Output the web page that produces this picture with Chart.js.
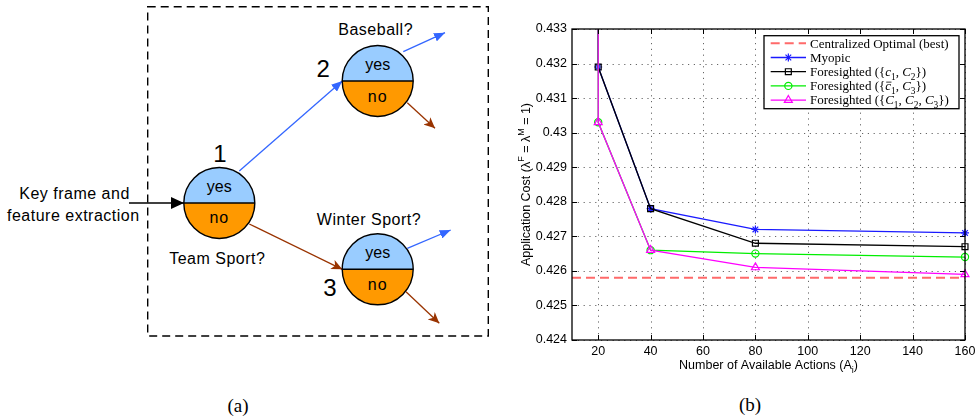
<!DOCTYPE html>
<html><head><meta charset="utf-8">
<script src="https://cdn.jsdelivr.net/npm/chart.js@4"></script>
<style>
html,body{margin:0;padding:0;background:#fff;width:975px;height:420px;overflow:hidden;}
#diagram{position:absolute;left:0;top:0;}
#plot{position:absolute;left:490px;top:0;}
</style></head><body>
<svg id="diagram" width="975" height="420" xmlns="http://www.w3.org/2000/svg" font-family="Liberation Sans, Arial, sans-serif">
<defs>
 <marker id="hBlack" markerUnits="userSpaceOnUse" markerWidth="13" markerHeight="12" refX="13" refY="6" orient="auto"><path d="M0,0 L13,6 L0,12 Z" fill="#000"/></marker>
 <marker id="hBlue" markerUnits="userSpaceOnUse" markerWidth="11" markerHeight="9" refX="11" refY="4.5" orient="auto"><path d="M0,0 L11,4.5 L0,9 Z" fill="#3366ff"/></marker>
 <marker id="hBrown" markerUnits="userSpaceOnUse" markerWidth="11" markerHeight="10" refX="11" refY="5" orient="auto"><path d="M0,0 L11,5 L0,10 L3,5 Z" fill="#993300"/></marker>
</defs>
<rect x="147.7" y="6.7" width="340.6" height="329.3" fill="none" stroke="#000" stroke-width="1.4" stroke-dasharray="8,5"/>
<!-- arrows -->
<line x1="129" y1="203" x2="184" y2="203" stroke="#000" stroke-width="1.4" marker-end="url(#hBlack)"/>
<line x1="239.3" y1="171" x2="342.3" y2="81" stroke="#3366ff" stroke-width="1.3" marker-end="url(#hBlue)"/>
<line x1="249.3" y1="224" x2="342.3" y2="269.3" stroke="#993300" stroke-width="1.3" marker-end="url(#hBrown)"/>
<line x1="403.3" y1="51.7" x2="445" y2="32.7" stroke="#3366ff" stroke-width="1.3" marker-end="url(#hBlue)"/>
<line x1="407.3" y1="102.7" x2="435" y2="128.3" stroke="#993300" stroke-width="1.3" marker-end="url(#hBrown)"/>
<line x1="407.3" y1="248.3" x2="450.7" y2="230" stroke="#3366ff" stroke-width="1.3" marker-end="url(#hBlue)"/>
<line x1="406" y1="291.7" x2="439.3" y2="323.3" stroke="#993300" stroke-width="1.3" marker-end="url(#hBrown)"/>
<!-- node 1 -->
<g>
 <path d="M183.8,203 A35.5,35.5 0 0 1 254.8,203 Z" fill="#99ccff"/>
 <path d="M183.8,203 A35.5,35.5 0 0 0 254.8,203 Z" fill="#ff9900"/>
 <circle cx="219.3" cy="203" r="35.5" fill="none" stroke="#000" stroke-width="1.4"/>
 <line x1="183.8" y1="203" x2="254.8" y2="203" stroke="#000" stroke-width="1.4"/>
 <text x="219.3" y="192" font-size="16" text-anchor="middle">yes</text>
 <text x="219.3" y="223" font-size="16" text-anchor="middle" letter-spacing="1">no</text>
</g>
<g>
 <path d="M342.2,81 A35.5,35.5 0 0 1 413.2,81 Z" fill="#99ccff"/>
 <path d="M342.2,81 A35.5,35.5 0 0 0 413.2,81 Z" fill="#ff9900"/>
 <circle cx="377.7" cy="81" r="35.5" fill="none" stroke="#000" stroke-width="1.4"/>
 <line x1="342.2" y1="81" x2="413.2" y2="81" stroke="#000" stroke-width="1.4"/>
 <text x="377.7" y="70" font-size="16" text-anchor="middle">yes</text>
 <text x="377.7" y="101.5" font-size="16" text-anchor="middle" letter-spacing="1">no</text>
</g>
<g>
 <path d="M342.2,269.3 A35.5,35.5 0 0 1 413.2,269.3 Z" fill="#99ccff"/>
 <path d="M342.2,269.3 A35.5,35.5 0 0 0 413.2,269.3 Z" fill="#ff9900"/>
 <circle cx="377.7" cy="269.3" r="35.5" fill="none" stroke="#000" stroke-width="1.4"/>
 <line x1="342.2" y1="269.3" x2="413.2" y2="269.3" stroke="#000" stroke-width="1.4"/>
 <text x="377.7" y="258.3" font-size="16" text-anchor="middle">yes</text>
 <text x="377.7" y="289.8" font-size="16" text-anchor="middle" letter-spacing="1">no</text>
</g>
<text x="220" y="161.7" font-size="24" text-anchor="middle">1</text>
<text x="323.3" y="76.7" font-size="24" text-anchor="middle">2</text>
<text x="330" y="296" font-size="24" text-anchor="middle">3</text>
<text x="375.7" y="35" font-size="16" text-anchor="middle" letter-spacing="0.5">Baseball?</text>
<text x="369" y="225" font-size="16" text-anchor="middle" letter-spacing="0.5">Winter Sport?</text>
<text x="217.3" y="264" font-size="16" text-anchor="middle" letter-spacing="0.5">Team Sport?</text>
<text x="74.5" y="198.5" font-size="16" text-anchor="middle" letter-spacing="0.5">Key frame and</text>
<text x="73.3" y="221" font-size="16" text-anchor="middle" letter-spacing="0.5">feature extraction</text>
<text x="238" y="412" font-size="19" text-anchor="middle" font-family="Liberation Serif, Times New Roman, serif">(a)</text>
<text x="750" y="411" font-size="19" text-anchor="middle" font-family="Liberation Serif, Times New Roman, serif">(b)</text>
</svg>
<canvas id="plot" width="485" height="420"></canvas>
<script>
// ---- data ----
const actions = [20, 40, 80, 160];
const myopic = [0.4319, 0.4278, 0.4272, 0.4271];
const foresightedC1C2 = [0.4319, 0.4278, 0.4268, 0.4267];
const foresightedC1barC3 = [0.4303, 0.4266, 0.4265, 0.4264];
const foresightedAll = [0.4303, 0.4266, 0.4261, 0.4259];
const offScaleStart = 0.4345;          // every curve enters from above the axis at A = 20
const centralizedOptimal = 0.4258;
const xRange = [10, 160];
const yRange = [0.424, 0.433];
const xTicks = [20, 40, 60, 80, 100, 120, 140, 160];
const yTicks = [0.424, 0.425, 0.426, 0.427, 0.428, 0.429, 0.430, 0.431, 0.432, 0.433];
const seriesNames = ['Centralized Optimal (best)', 'Myopic', 'Foresighted ({c1, C2})', 'Foresighted ({c\u03041, C3})', 'Foresighted ({C1, C2, C3})'];

// rich-text legend labels
const legendRich = [
  [['Centralized Optimal (best)','n']],
  [['Myopic','n']],
  [['Foresighted ({','n'],['c','i'],['1','sub'],[', ','n'],['C','i'],['2','sub'],['})','n']],
  [['Foresighted ({','n'],['c','ibar'],['1','sub'],[', ','n'],['C','i'],['3','sub'],['})','n']],
  [['Foresighted ({','n'],['C','i'],['1','sub'],[', ','n'],['C','i'],['2','sub'],[', ','n'],['C','i'],['3','sub'],['})','n']]
];

function series(vals){
  return [{x: actions[0], y: offScaleStart}].concat(actions.map((a, i) => ({x: a, y: vals[i]})));
}
const radiusFn = r => (c => c.dataIndex === 0 ? 0 : r);
const clipBox = {left: 6, right: 8, top: 0, bottom: 6};

const datasets = [
  {label: seriesNames[0], data: [{x: xRange[0], y: centralizedOptimal}, {x: xRange[1], y: centralizedOptimal}],
   borderColor: '#ff6a6a', borderWidth: 2, borderDash: [9, 5], pointRadius: 0, order: 5, clip: clipBox},
  {label: seriesNames[1], data: series(myopic), borderColor: '#1a1aff', borderWidth: 1.3,
   pointStyle: 'star', pointRadius: radiusFn(4), pointBorderColor: '#1a1aff', pointBackgroundColor: 'rgba(0,0,0,0)', pointBorderWidth: 1.2, order: 4, clip: clipBox},
  {label: seriesNames[2], data: series(foresightedC1C2), borderColor: '#000000', borderWidth: 1.3,
   pointStyle: 'rect', pointRadius: radiusFn(4.2), pointBorderColor: '#000', pointBackgroundColor: 'rgba(0,0,0,0)', pointBorderWidth: 1.2, order: 3, clip: clipBox},
  {label: seriesNames[3], data: series(foresightedC1barC3), borderColor: '#00ee00', borderWidth: 1.3,
   pointStyle: 'circle', pointRadius: radiusFn(3.6), pointBorderColor: '#00ee00', pointBackgroundColor: 'rgba(0,0,0,0)', pointBorderWidth: 1.2, order: 2, clip: clipBox},
  {label: seriesNames[4], data: series(foresightedAll), borderColor: '#ff00ff', borderWidth: 1.3,
   pointStyle: 'triangle', pointRadius: radiusFn(4.6), pointBorderColor: '#ff00ff', pointBackgroundColor: 'rgba(0,0,0,0)', pointBorderWidth: 1.2, order: 1, clip: clipBox}
];

const SANS = '"Liberation Sans", Arial, sans-serif';
const SERIF = '"Liberation Serif", "Times New Roman", serif';

function segFont(type, size, family){
  const small = type === 'sub' || type === 'sup';
  const fs = small ? size * 0.72 : size;
  const italic = (type === 'i' || type === 'ibar');
  return {font: (italic ? 'italic ' : '') + fs + 'px ' + family, dy: type === 'sub' ? size * 0.3 : (type === 'sup' ? -size * 0.42 : 0)};
}
function richWidth(ctx, segs, size, family){
  let w = 0;
  for (const [t, type] of segs){ ctx.font = segFont(type, size, family).font; w += ctx.measureText(t).width; }
  return w;
}
function drawRich(ctx, segs, x, y, size, family, color){
  ctx.fillStyle = color || '#000';
  ctx.textBaseline = 'alphabetic';
  ctx.textAlign = 'left';
  for (const [t, type] of segs){
    const f = segFont(type, size, family);
    ctx.font = f.font;
    ctx.fillText(t, x, y + f.dy);
    const w = ctx.measureText(t).width;
    if (type === 'ibar'){
      ctx.save(); ctx.strokeStyle = color || '#000'; ctx.lineWidth = 0.8;
      ctx.beginPath(); ctx.moveTo(x + 1, y - size * 0.62); ctx.lineTo(x + w + 0.5, y - size * 0.62); ctx.stroke(); ctx.restore();
    }
    x += w;
  }
}

// dotted MATLAB-style grid drawn at the scales' tick positions
const gridPlugin = {
  id: 'dottedGrid',
  beforeDatasetsDraw(chart){
    const ctx = chart.ctx, a = chart.chartArea;
    const xs = chart.scales.x, ys = chart.scales.y;
    ctx.save();
    ctx.strokeStyle = 'rgba(0,0,0,0.6)';
    ctx.lineWidth = 1;
    ctx.setLineDash([1.2, 4.6]);
    ctx.beginPath();
    for (const t of xs.ticks){
      const px = Math.round(xs.getPixelForValue(t.value)) + 0.5;
      ctx.moveTo(px, a.bottom); ctx.lineTo(px, a.top);
    }
    for (const t of ys.ticks){
      const py = Math.round(ys.getPixelForValue(t.value)) + 0.5;
      ctx.moveTo(a.left, py); ctx.lineTo(a.right, py);
    }
    ctx.stroke();
    ctx.restore();
  }
};

const framePlugin = {
  id: 'matlabFrame',
  afterDraw(chart){
    const ctx = chart.ctx, a = chart.chartArea;
    const xs = chart.scales.x, ys = chart.scales.y;
    ctx.save();
    // box
    ctx.strokeStyle = '#000'; ctx.lineWidth = 1.3; ctx.setLineDash([]);
    ctx.strokeRect(a.left, a.top, a.right - a.left, a.bottom - a.top);
    // inward ticks on all sides
    ctx.lineWidth = 1;
    const tl = 5;
    ctx.beginPath();
    for (const t of xs.ticks){
      const px = Math.round(xs.getPixelForValue(t.value)) + 0.5;
      ctx.moveTo(px, a.bottom); ctx.lineTo(px, a.bottom - tl);
      ctx.moveTo(px, a.top); ctx.lineTo(px, a.top + tl);
    }
    for (const t of ys.ticks){
      const py = Math.round(ys.getPixelForValue(t.value)) + 0.5;
      ctx.moveTo(a.left, py); ctx.lineTo(a.left + tl, py);
      ctx.moveTo(a.right, py); ctx.lineTo(a.right - tl, py);
    }
    ctx.stroke();

    // axis titles
    const xt = [['Number of Available Actions (A','n'],['i','sub'],[')','n']];
    const xw = richWidth(ctx, xt, 12.5, SANS);
    drawRich(ctx, xt, (a.left + a.right) / 2 - xw / 2, a.bottom + 29, 12.5, SANS);
    const yt = [['Application Cost (\u03bb','n'],['F','sup'],[' = \u03bb','n'],['M','sup'],[' = 1)','n']];
    const yw = richWidth(ctx, yt, 12.5, SANS);
    ctx.save();
    ctx.translate(a.left - 42.5, (a.top + a.bottom) / 2);
    ctx.rotate(-Math.PI / 2);
    drawRich(ctx, yt, -yw / 2, 0, 12.5, SANS);
    ctx.restore();

    // legend
    const bw = 195, bh = 73;
    const bx = a.right - 6 - bw, by = a.top + 6.7;
    ctx.fillStyle = '#fff';
    ctx.fillRect(bx, by, bw, bh);
    ctx.strokeStyle = '#000'; ctx.lineWidth = 1.3;
    ctx.strokeRect(bx, by, bw, bh);
    chart.data.datasets.forEach((ds, i) => {
      const yy = by + 7.6 + i * 14.2;
      const x0 = bx + 6.7, x1 = bx + 42;
      ctx.save();
      ctx.strokeStyle = ds.borderColor; ctx.lineWidth = ds.borderWidth;
      ctx.setLineDash(ds.borderDash || []);
      ctx.beginPath(); ctx.moveTo(x0, yy); ctx.lineTo(x1, yy); ctx.stroke();
      ctx.setLineDash([]);
      if (ds.pointStyle){
        ctx.strokeStyle = ds.pointBorderColor; ctx.fillStyle = 'rgba(0,0,0,0)';
        ctx.lineWidth = ds.pointBorderWidth;
        const r = ds.pointRadius({dataIndex: 1});
        Chart.helpers.drawPoint(ctx, {pointStyle: ds.pointStyle, radius: r, rotation: 0, borderWidth: ds.pointBorderWidth}, (x0 + x1) / 2, yy);
      }
      ctx.restore();
      drawRich(ctx, legendRich[i], bx + 46, yy + 4.3, 13, SERIF);
    });
    ctx.restore();
  }
};

new Chart(document.getElementById('plot'), {
  type: 'line',
  data: {datasets},
  options: {
    responsive: false,
    devicePixelRatio: 1,
    animation: false,
    layout: {padding: {top: 29, right: 10, left: 0, bottom: 0}},
    plugins: {legend: {display: false}, tooltip: {enabled: false}},
    elements: {line: {tension: 0}},
    scales: {
      x: {
        type: 'linear', min: xRange[0], max: xRange[1],
        afterBuildTicks: s => { s.ticks = xTicks.map(v => ({value: v})); },
        afterFit: s => { s.height = 80; s.paddingLeft = 0; s.paddingRight = 0; },
        ticks: {font: {family: SANS, size: 12.5}, color: '#000', padding: 4, maxRotation: 0, autoSkip: false},
        grid: {display: false, drawTicks: false},
        border: {display: false}
      },
      y: {
        type: 'linear', min: yRange[0], max: yRange[1],
        afterBuildTicks: s => { s.ticks = yTicks.map(v => ({value: v})); },
        afterFit: s => { s.width = 82; s.paddingTop = 0; s.paddingBottom = 0; },
        ticks: {font: {family: SANS, size: 12.5}, color: '#000', padding: 5, autoSkip: false,
                callback: v => String(+(+v).toFixed(3))},
        grid: {display: false, drawTicks: false},
        border: {display: false}
      }
    }
  },
  plugins: [gridPlugin, framePlugin]
});
</script>
</body></html>
